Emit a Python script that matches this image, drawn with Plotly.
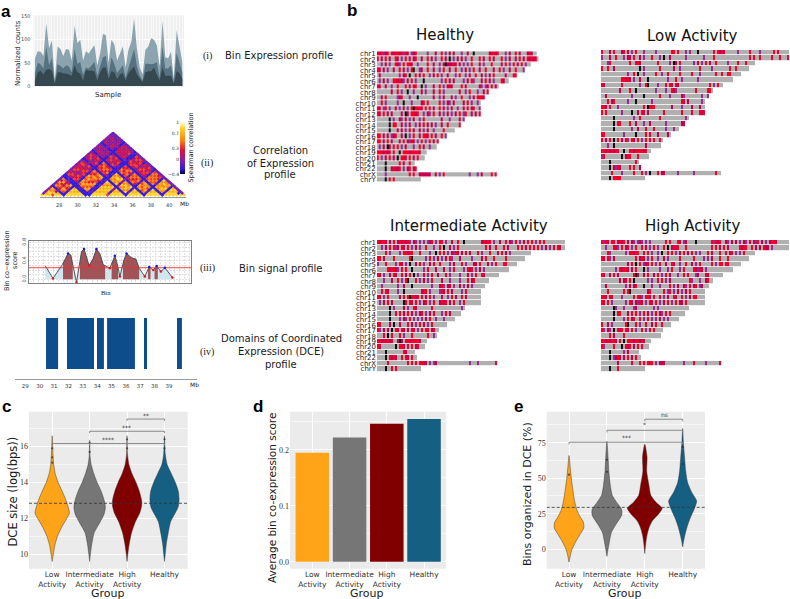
import numpy as np
import plotly.graph_objects as go

W, H = 790, 599
SANS = "DejaVu Sans"
SERIF = "Liberation Serif"

# ---------- panel a(i)
sample_outer = [60,75,74,65,135,82,98,10,85,80,65,80,78,55,130,92,100,55,75,70,80,88,45,70,112,110,50,100,90,55,70,85,40,78,95,145,80,40,25,78,85,103,100,88,42,140,62,60,74,15,120,85,52]
sample_mid = [28,50,47,38,85,45,60,8,47,44,38,45,42,30,80,48,52,24,40,38,45,52,22,40,62,65,25,62,48,28,38,45,18,38,55,80,42,22,12,48,48,47,48,52,18,85,38,38,45,8,72,50,30]
sample_dark = [12,30,33,25,35,37,33,5,30,30,27,27,25,22,45,30,27,12,35,33,33,32,12,30,40,40,15,32,30,15,25,28,12,28,35,42,25,15,8,30,32,32,40,25,12,40,22,22,22,5,32,28,15]

# ---------- panel a(ii): upper triangle of the bin correlation matrix, digit 0-9, row i starts at column i
corr_rows = [
"822323 1 22322 11 232232322 1 2323 1 2322 1 232322",
"87867 1 65746 11 543534453 1 4353 1 3243 1 432322",
"8876 1 56475 12 453454354 1 3534 1 4332 1 323422",
"583 2 45343 21 343234343 2 3243 2 3323 2 232322",
"87 1 67564 11 545345435 1 4345 1 3423 1 343232",
"8 1 56457 11 454354534 1 3534 1 3243 1 323422",
"1 11211 11 211121121 1 1211 1 1121 1 112111",
"88787 11 567567456 1 4546 1 4353 1 343432",
"8878 12 675675645 1 5465 1 3534 1 434342",
"887 11 567456756 1 4654 1 4345 1 343432",
"88 11 756745657 1 5464 1 5343 1 434342",
"8 11 675675467 1 4645 1 3454 1 343532",
"1 1 211211121 1 2111 1 1211 1 211121",
"1 121112112 1 1121 1 2111 1 121112",
"887878678 1 6768 1 5645 1 454352",
"88787867 1 7686 1 6454 1 543542",
"8878786 1 6786 1 4565 1 454352",
"887878 1 8678 1 5646 1 354542",
"52132 1 3132 2 3132 1 232312",
"8878 1 6867 1 4656 1 454342",
"887 1 7686 1 5465 1 345432",
"88 1 6876 1 6546 1 453452",
"8 1 8678 1 4565 1 345432",
"1 1211 1 1121 1 211211",
"8878 1 6756 1 565652",
"887 1 7567 1 656562",
"88 1 5676 1 565642",
"8 1 6756 1 656452",
"1 1211 1 121112",
"8878 1 767682",
"887 1 676862",
"88 1 786762",
"8 1 678672",
"1 121112",
"887872",
"88782",
"8872",
"812",
"82",
"8",
]
corr_min, corr_max = -0.4, 1.0
cb_levels = [-0.4,-0.3,-0.2,-0.1,0,0.1,0.2,0.3,0.4,0.5,0.6,0.7,0.8,0.9,1.0]
cb_ticks = [-0.4,0,0.3,0.7,1]
mb_ticks_ii = [28,30,32,34,36,38,40]
corr_scale = [[0,"#000030"],[0.1,"#2a18e0"],[0.24,"#7a1fb0"],[0.46,"#e0103a"],[0.68,"#ff8a10"],[0.88,"#ffcf28"],[1,"#ffffd8"]]

# ---------- panel a(iii)
sig_bin = [10.1,14.8,20.6,24.1,25.8,29.3,32.4,34,37.1,39.6,41.6,43.7,45.8,49.9,53,54.4,56.1,58.6,60.2,63.3,66,68,71.5,74.2,76.7,78.8,81.4,83.9,88.5]
sig_val = [.29,.02,.32,.56,.53,-.07,.6,.66,.3,.45,.66,.56,.32,.24,.51,.35,.06,.42,.56,.47,.44,.24,.06,.27,.2,.29,.17,.25,.04]
sig_threshold = 0.252
sig_domains = [(21,27),(31.5,47),(51,55),(58,68),(73.5,75),(77.5,79.5)]
peak_bin = [24.1,34,41.6,53,60.2,74.2,78.8,83.9]
peak_val = [.56,.66,.66,.51,.56,.27,.29,.25]
valley_bin = [14.8,29.3,37.1,49.9,56.1,71.5,76.7,81.4,88.5]
valley_val = [.02,-.07,.3,.24,.06,.06,.2,.17,.04]

# ---------- panel a(iv)
dce_start = [30.44,31.9,33.99,34.69,37.26,39.56]
dce_end = [31.28,33.78,34.47,36.63,37.47,39.9]
mb_ticks_iv = [29,30,31,32,33,34,35,36,37,38,39]

# ---------- panel b: chromosome stripes, one char per bin
chroms = ["chr%d"%i for i in range(1,23)]+["chrX","chrY"]
cell_len_healthy = [80,81,77,74,70,66,61,56,54,52,52,52,44,42,39,35,31,30,25,24,19,20,60,22]
cell_len_wide = [94,94,77,74,70,66,61,56,54,52,52,52,44,42,39,35,31,30,25,24,19,20,60,22]
healthy_rows = [
"rcrpcr.rcr rcrprc.pcr .....p...c ..r.p.c.c. ..p..c..k. ......crrc r...p.c..r .c...crc..",
"r.c.r.c..r c.p.r.c.cr ..c..r.c.p ..r.c.k.p. c.c.p..r.. .r.c..r.c. ..r.p.c..c .r.c.rcrcr.",
"..p.c.p..r cp.r.rrc.. p....r..c. .p.ckcccrc .c.p.p.r.. .c.p...r.. ..c.r.p.r. c.r.p..",
"rc.c.p..c. .r.c.p.rk. .pc..r..c. .p.r..c..r ..p.c.p.r. .c..r...c. .r.p..c..r ...p",
".c........ .p.cr.k..r .c.r..p.c. r.p..c...p .r..p.c..r ..c.p.c.r. ....c...rr",
".p.c.p..rr crcp.c.r.p ...k...... ..p.r.c.c. ...p.c.rp. ..c.r.c.p. ..rc..",
"rc..c..p.. r...r.c.rr ..k.p...c. .r.p.crc.. ..r.c..... .cp.pc.r.c",
".......c.. r.p..k..p. ..c.p...c. .r.p...... .c..p.r... p..c.r",
"..c.r..... pcr...p... k.......c. .p.c...c.p ..r...p.c. rrrcr",
"..r.p..... p..k...p.. ..cr.r.... .r.p.cp.c. ...c.r.p.. p",
"rc.pr.p..c .p.c.p.rkr rrc.r.r.c. .r.c.p.c.. p..c.r.cr. .p",
"rc.r.c.c.. ..c.kc.rrc r..p.cp.r. .c.p.c.p.c .r.pr..c.c .r",
"......k.p. .cp.c.p.c. .p.r...... ..c...p... .c.p",
"......k.rr ..c.p.c..p .c.r.c.c.p ..c..r.... .r",
"......k... c.c.p.r.c. .c.p.c..p. ...r....",
"rr.c.c.pcr ..c.k.p.r. .c.rrc.r.c ..r.p",
"rr.c.r.c.. .c.r.cprc. p.r.p.r.c.r",
".p.c.kc.r. r.p.c...p. .r.c..p...",
"rrrcrcr.r. .k.rrrcrrr rc...",
"r.p.c.r.c. k.rrc.r.c.r.",
"....k..... .r.c..r..",
"....k..crc cr.p.cr.cr",
"....p..... ......r.r. .cccccc..c .p.r...... ......p... p.c....r.r",
"....k.r.r. .......... ..",
]
low_rows = [
"r...c.r... cr.c.p.r.. .p.....p.. .....rr.r. ..p.p...k. ......r.rc rc......p. ....r....p ......r.r.",
"p...c..r.. .p.cc.r..c .p...r...p .k..c..... ..p....... .p....r... .......... ....r.r..r .....r...r ...r",
"...pr..... ....r..rrc ........r. ....p.kc.r ......p.c. p.r.c..r.. ...p....r. ..r....r",
"r..r..c... .........k .p.......r ......c..p .........r .....p.... ....r..r..",
".......... ...p..r.k. .p.....r.. p..r.....r .....r...p .......r.. r..rr",
".......... rrcrc.p..c ...k...... ...p...r.. p.......p. ..........",
"rc........ r........p ..rk....p. ..r.rc.rc. .......... ....r.p.r.",
".........c ....r..k.. .......p.. ..p..rcp.. .......r.. ...rr.",
"..c....... .....p.... .k.......r ....p..... cp........ p..pcrrr",
"...r.cr... ...p...k.. .....p.... .......... rc.c...... p.....",
"rrc.r...p. .......... .r.krrr... .....c.... p....c...c ..c..",
"r.r....... p....k..c. rc.c...... .r........ r....r...r cr..",
"......k... ......p..r .........r .......... ..p.",
"......k.rr ....r..c.. .p..c..... ..p....... cc",
"......k... .....p..c. ..r...r... ..p...p..p .",
"rr........ .p.....k.. ..r.r...c. ...c...r.",
"r.c.r.k.r. c.rp.rc.r. p.r.r.r..r",
"...p..k... .......... ..c.......",
"rrcrcrcrr. .k..rrcrrr rcr..",
"pr........ k.crr...r. .....r.r.",
"....k..... .......r.r",
"....k.cprc ....r.r..c.r",
".....r.... p.....r... r.p.k...r. cc......p. ......p... .......r.",
"....k.rrrr ............",
]
inter_rows = [
"rcrrc.c.r. crcrcrp.cp .p.p.pcr.p .rr.p..c.. r..k...... ..crcrr.p. .c..r.cp.r .p.c.r.r.p .r.r",
"..p.c.r.rp c.rc.r.p.c .p..r...p. .r.k..c.p. r......... ....r.c..r ...r.c.... r.r.c.r.r. r.p.c.p.r.rc",
"....r.p... .p.rrcrr.. .r....p..k .r.r.p.cprc .c.r.c...r .p...r...c .r.c.p",
"rr.c....r. ......rk.. ....p.r.p. c.p.c.rp.. .c.....p.. ..c.r...r. ....r",
"p...r....p .rc.p.k..c .r.p..c.r. .r....p.c. ..r.p...cc .r...c.p.r ...rr",
".....rcrrc p.r.r..k.. ...p.r...c ...c..p.r. ...p.rcr.p .c.p...",
"rc.p..c.rc ..r.c.r.k. p..r.p.r.. c...r.p... .p...c.p.r ..rc",
"...p...c.. r.p.rk...r .p.c.p.r.. ..c...p... .p...r.cr",
"..p....... p..c...k.. .......p.. .crp.cc.p. .c.p.c.p..",
"..r.rc.... p..k...... ..crr.p... .prc.r.c.. ..p.r..",
"rc.p.r.... .c.r.rkrrc r.r.c.r.p. ..c..p.r.c ..r.c",
".p.c.r.c.. ...kr.rc.r .p.cr.p.r. .crcr.c.r. .p.r",
"......k.p. ...c.p..rc .......r.. .......... ..p.",
"......k..r .r.c.r.c.p .cr.p.c.r. ..p.r.c",
"......k... .p.cp.r.p. p.p.c.r..p ...p",
"rr....c.k. .c...r.c.p .r.c.p.r..",
"rp.c.c.k.r c.rc.c.rc. p.r.rr.cr",
"...r.k.r.. .r.p...r.. .....r..p",
"rrcrcrcr.. ckc.rrcrrr rc",
"rc.......k .rrc.r.r.c r",
"....k..... ...rc.",
"....k.rcrc ..r.rc.r",
".....r.... .....r.r.r .rrcc.p.pc .......... ......p... p........r",
"....k..r.r ..........",
]
high_rows = [
"rprc.rr.cr cr.c.cp.pc p.p.p..... ..r.r...rc .pc....k.. .....rprcr ..cp.c.c.p .cp.r.cpr. c.p.crrc..",
"..p...rcp. r.cr.p.r.. r.c.p.r.p. .r.k.crcr. ..r....... .....r.r.c .r.c.....r crr..r.c.c .rcc.p",
"...rp..... ..p.rrcrr. .r.r.p..p. k..r.r.p.c .r.c.r.p.p ...r.c...r ..r.cr.p.p.r",
"rc.rp.c... .......r.c rc.p.r..p. .c.p.....r ......r... .p.p.c...r ...r...",
".......... ...c.r.k.r .pcr.r.p.r ..c..rc..p ..r..c.p.r .....r.p.r r.rr",
".......p.r crrc.c.r.. .k.p.....p ...p.r...p .r....rcpr c.p..",
"rc..c.r.c. ......rkc. .c.r..c.r. p.r.c...p. .r.r...pc. ..rc",
".........c .cr.r.k... ...p.p..r. r.p.c..... ....rp...p ..cr",
"..c....... ..p.c.cr.. .k...p...p ....r.p.c. .cp.r.cr.p c..",
"...r...... .r.rk..... ...cr..... .r.pr.p.c. p.c.r..",
"rrc.rc.... p.....r.rc p.rrc.r..r .p.c..rc.. r.p.c.rr",
"rc.r.p.... ..p.rc.cpr c.p.rc.r.p .c.r.p.r.c c.r",
"......kp.. .p....pc.. ......p.p. ....",
"......k.rr ...c.r.r.p .r.c.p.r.c p.r.r",
"......k... .p.r.cr..r .p.r.p.p.c .p.p",
"r..c.p.... ..rk...r.p ..r..c.r..r",
"rp.cp.k.rc r.rc.r.p.. r.p.r.r",
"....r.c... .r........",
"rrcrcrrc.r .k.rrrcrrc rc",
"rp....r... k.rcr.c.r.r",
"....k..... .p.c..",
"....k.pcrc .c.r.c.r",
"........c. .....r...r .r.rrr.p.c cc........ .p....r... ..p......r",
"....k...r. ..........",
]
stripe_code = {".":0,"p":1,"c":2,"r":3,"k":4}
stripe_scale = [[0,"#b0b0b0"],[0.2,"#b0b0b0"],[0.2,"#9a2a90"],[0.4,"#9a2a90"],[0.4,"#c4004e"],[0.6,"#c4004e"],[0.6,"#f5002a"],[0.8,"#f5002a"],[0.8,"#111111"],[1,"#111111"]]

# ---------- panels c, d, e
groups = ["Low<br>Activity","Intermediate<br>Activity","High<br>Activity","Healthy"]
group_pos = [1,2,3,4]
group_colors = ["#FFA319","#767676","#800000","#155F83"]

c_y = [[16.6,15.6,15,14.5,14,13.5,13,12.6,12.3,12,11.5,11,10.5,10,9.6],
       [16.35,15.5,15,14.5,14,13.5,13,12.6,12.2,11.8,11.2,10.6,10,9.6],
       [16.6,15.6,15,14.5,14,13.5,13,12.7,12.3,11.8,11.2,10.6,10,9.6],
       [16.6,15.6,15,14.5,14,13.5,13,12.6,12.2,11.8,11.2,10.6,10,9.6]]
c_hw = [[0,.02,.04,.08,.16,.27,.37,.43,.46,.39,.25,.14,.07,.03,0],
        [0,.01,.04,.11,.2,.31,.39,.42,.38,.28,.12,.06,.02,0],
        [0,.01,.05,.13,.24,.33,.39,.39,.34,.22,.12,.06,.02,0],
        [0,.02,.07,.18,.29,.37,.39,.36,.26,.16,.1,.05,.02,0]]
c_q1 = [11.96,12.19,12.15,12.35]
c_med = [12.5,12.28,12.84,13.0]
c_q3 = [13.15,13.45,13.55,13.68]
c_lo = [10.1,10.3,10.1,10.3]
c_hi = [15,15,15.1,15.1]
c_out_x = [1,1,1,2,2,3,3,4,4]
c_out_y = [15.9,15.4,15.1,15.7,16.2,15.9,16.4,15.9,16.4]
c_ref = 12.84
c_brackets = [(1,4,16.17,"****",2.5,16.42),(2,4,16.85,"***",2.98,17.08),(3,4,17.53,"**",3.5,17.72)]
c_ticks = [10,12,14,16]

d_vals = [0.1946,0.222,0.2464,0.2548]
d_ticks = [0.0,0.1,0.2]

e_y = [[66,58,50,42,35,28,23,19,15,10,5,0,-5,-9],
       [76,65,55,45,38,33,28,24,18,12,6,0,-5],
       [74,65,55,45,38,33,29,25,20,15,10,5,0,-3],
       [85,75,65,55,47,40,34,28,22,16,10,5,1.6]]
e_hw = [[0,.03,.06,.1,.14,.2,.29,.38,.39,.28,.17,.08,.03,0],
        [0,.03,.05,.09,.14,.26,.39,.39,.25,.12,.07,.03,0],
        [0,.06,.05,.11,.16,.3,.46,.37,.2,.11,.06,.03,.01,0],
        [0,.02,.05,.08,.13,.24,.37,.3,.2,.12,.06,.02,0]]
e_q1 = [14,20.4,24.6,27.7]
e_med = [20.6,28.4,30,35]
e_q3 = [27,32.4,36.6,40]
e_lo = [4.6,8,14,10]
e_hi = [40,50,50,52]
e_out_x = [1,2,2,3,4,4]
e_out_y = [52.5,54.5,63,61,60,72]
e_ref = 29.5
e_brackets = [(1,4,75.3,"***",2.53,79),(2,4,83.7,"*",3.0,87.5),(3,4,91.5,"ns",3.53,94.5)]
e_ticks = [0,25,50,75]

# ---------- helpers
fig = go.Figure()
layout = {}
axis_count = 0

def px_x(x): return x / W
def px_y(y): return 1 - y / H

def new_axes(x0, x1, y0, y1, xopts, yopts):
    global axis_count
    axis_count += 1
    n = "" if axis_count == 1 else str(axis_count)
    base = dict(showgrid=False, zeroline=False, showticklabels=False, ticks="", showline=False, fixedrange=True)
    xa = dict(base); xa.update(domain=[px_x(x0), px_x(x1)], anchor="y"+n); xa.update(xopts)
    ya = dict(base); ya.update(domain=[px_y(y1), px_y(y0)], anchor="x"+n); ya.update(yopts)
    layout["xaxis"+n] = xa
    layout["yaxis"+n] = ya
    return dict(xaxis="x"+n, yaxis="y"+n), ("x"+n, "y"+n)

annots = []
def text(x, y, s, size=10, family=SANS, color="#1a1a1a", angle=0, bold=False, anchor="center"):
    if bold: s = "<b>%s</b>" % s
    annots.append(dict(x=px_x(x), y=px_y(y), xref="paper", yref="paper", text=s, showarrow=False, textangle=angle,
                       font=dict(size=size, family=family, color=color), xanchor=anchor, yanchor="middle", align="center"))
shapes = []
def panel_bg(x0, x1, y0, y1, color="#ebebeb", line=None, lw=0):
    shapes.append(dict(type="rect", xref="paper", yref="paper", x0=px_x(x0), x1=px_x(x1), y0=px_y(y1), y1=px_y(y0),
                       fillcolor=color, line=dict(width=lw, color=line or color), layer="below"))

# ---------- a(i)
panel_bg(33.5, 184, 15.5, 87, "#efefef")
ax, _ = new_axes(33.5, 184, 15.5, 87,
    dict(range=[-0.5,52.6], showgrid=True, gridcolor="#f8f8f8", gridwidth=0.5, tickmode="array", tickvals=list(range(53))),
    dict(range=[-2,152], showgrid=True, gridcolor="#ffffff", gridwidth=0.8, showticklabels=True, tickvals=[0,50,100,150],
         tickfont=dict(size=5, family=SANS, color="#444"), ticklen=1, ticks="outside", tickcolor="rgba(0,0,0,0)"))
sx = list(range(len(sample_outer)))
for v, col in [(sample_outer,"#8ca4b0"),(sample_mid,"#567280"),(sample_dark,"#35484f")]:
    fig.add_trace(go.Scatter(x=sx, y=v, mode="lines", line=dict(width=0, color=col), fill="tozeroy", fillcolor=col, hoverinfo="skip", **ax))
text(18, 53, "Normalized counts", 7, angle=-90)
text(108, 95, "Sample", 7)
text(207, 56, "(i)", 10, SERIF)
text(279, 56, "Bin Expression profile", 10)

# ---------- a(ii)
n_bins = len(corr_rows)
mb0, mb1 = 25.9, 41.82
bin_size = (mb1-mb0)/n_bins
ax, _ = new_axes(40, 186, 132, 197,
    dict(range=[mb0,mb1], showticklabels=True, tickvals=mb_ticks_ii, tickfont=dict(size=5, family=SANS, color="#333"),
         showline=True, linecolor="#9a9a9a", linewidth=0.8, ticks="outside", ticklen=3, tickcolor="rgba(0,0,0,0)"),
    dict(range=[-1,n_bins]))
cx, cy, cz = [], [], []
for i, row in enumerate(corr_rows):
    row = row.replace(" ", "")
    row = row.ljust(n_bins-i, "3")[:n_bins-i]
    for k, ch in enumerate(row):
        j = i + k
        cx.append(mb0 + bin_size*((i+j)/2+0.5)); cy.append(k+0.3)
        cz.append(corr_min + int(ch)/9*(corr_max-corr_min))
fig.add_trace(go.Scatter(x=cx, y=cy, mode="markers", hoverinfo="skip",
    marker=dict(symbol="diamond", size=3.0, color=cz, cmin=corr_min, cmax=corr_max, colorscale=corr_scale, line=dict(width=0)), **ax))
ax, _ = new_axes(180, 185, 122, 174, dict(range=[-0.5,0.5]),
    dict(range=[corr_min,corr_max], showticklabels=True, tickvals=cb_ticks, ticktext=["\u22120.4","0","0.3","0.7","1"],
         tickfont=dict(size=4.5, family=SANS, color="#333"), ticks="", ticklen=0))
fig.add_trace(go.Heatmap(x=[0], y=cb_levels, z=[[v] for v in cb_levels], zmin=corr_min, zmax=corr_max, colorscale=corr_scale,
                         showscale=False, hoverinfo="skip", zsmooth="best", **ax))
text(190.5, 148, "Spearman correlation", 6.5, angle=-90)
text(184, 204, "Mb", 6)
text(207, 163, "(ii)", 10, SERIF)
text(280, 150, "Correlation", 10); text(280, 163, "of Expression", 10); text(280, 175, "profile", 10)

# ---------- a(iii)
ax, _ = new_axes(29, 191, 240.7, 283.3,
    dict(range=[0,100], showgrid=True, gridcolor="#e0e0e0", griddash="2px,1px", gridwidth=0.5, dtick=3,
         showline=True, mirror=True, linecolor="#808080", linewidth=1.2),
    dict(range=[-0.087,0.84], showgrid=True, gridcolor="#e0e0e0", griddash="2px,1px", gridwidth=0.5, dtick=0.1,
         showticklabels=True, tickvals=[0,0.1,0.2,0.3,0.4,0.5,0.6,0.7,0.8], ticktext=["0.0","","","","0.4","","","","0.8"], tickangle=-90,
         tickfont=dict(size=5, family=SANS, color="#444"), showline=True, mirror=True, linecolor="#808080", linewidth=1.2))
fig.add_trace(go.Scatter(x=sig_bin, y=sig_val, mode="lines", line=dict(width=0), fill="tozeroy", fillcolor="#cfe6ef", hoverinfo="skip", **ax))
for a, b in sig_domains:
    xs = [a] + [x for x in sig_bin if a < x < b] + [b]
    ys = list(np.interp(xs, sig_bin, sig_val))
    fig.add_trace(go.Scatter(x=[a]+xs+[b], y=[0]+ys+[0], mode="lines", line=dict(width=0), fill="toself",
                             fillcolor="rgba(150,50,55,0.82)", hoverinfo="skip", **ax))
fig.add_trace(go.Scatter(x=sig_bin, y=sig_val, mode="lines", line=dict(width=0.9, color="#3d4a4d"), hoverinfo="skip", **ax))
fig.add_trace(go.Scatter(x=[0,100], y=[sig_threshold]*2, mode="lines", line=dict(width=0.9, color="#ee3030"), hoverinfo="skip", **ax))
fig.add_trace(go.Scatter(x=peak_bin, y=peak_val, mode="markers", marker=dict(size=2.5, color="#1515e0"), hoverinfo="skip", **ax))
fig.add_trace(go.Scatter(x=valley_bin, y=valley_val, mode="markers", marker=dict(size=2.5, color="#e81515"), hoverinfo="skip", **ax))
text(7, 261, "Bin co\u2212expression", 6.5, angle=-90)
text(15, 261, "score", 6.5, angle=-90)
text(106, 292, "Bin", 6.5, SERIF)
text(207, 268, "(iii)", 10, SERIF)
text(281, 268, "Bin signal profile", 10)

# ---------- a(iv)
ax, _ = new_axes(15, 197, 318, 379,
    dict(range=[28.28,40.95], showticklabels=True, tickvals=mb_ticks_iv, tickfont=dict(size=5.5, family=SANS, color="#333"),
         showline=True, linecolor="#9a9a9a", linewidth=0.8, ticks="outside", ticklen=1, tickcolor="rgba(0,0,0,0)"),
    dict(range=[-0.196,1]))
fig.add_trace(go.Bar(x=[(a+b)/2 for a,b in zip(dce_start,dce_end)], width=[b-a for a,b in zip(dce_start,dce_end)],
                     y=[1]*len(dce_start), marker=dict(color="#0e4d8c", line=dict(width=0)), hoverinfo="skip", **ax))
text(194, 384, "Mb", 6)
text(207, 352, "(iv)", 10, SERIF)
text(281, 338, "Domains of Coordinated", 10); text(281, 351, "Expression (DCE)", 10); text(281, 364, "profile", 10)

# ---------- b
def chrom_panel(rows, lens, x0, y_first, y_last, labels):
    pitch = (y_last-y_first)/23
    nmax = max(lens)
    yopts = dict(range=[23.5,-0.5])
    if labels:
        yopts.update(showticklabels=True, tickmode="array", tickvals=list(range(24)), ticktext=chroms,
                     tickfont=dict(size=7, family=SANS, color="#222"), ticks="", ticklen=0)
    ax, _ = new_axes(x0, x0+2*nmax, y_first-pitch/2, y_last+pitch/2, dict(range=[-0.5,nmax-0.5]), yopts)
    z = []
    for r, n in zip(rows, lens):
        s = r.replace(" ", "").ljust(n, ".")[:n]
        z.append([stripe_code[c] for c in s] + [None]*(nmax-n))
    fig.add_trace(go.Heatmap(x=list(range(nmax)), y=list(range(24)), z=z, zmin=-0.5, zmax=4.5, colorscale=stripe_scale,
                             showscale=False, ygap=0.8, hoverinfo="skip", **ax))

chrom_panel(healthy_rows, cell_len_healthy, 376.7, 54, 180, True)
chrom_panel(low_rows, cell_len_wide, 601, 52.7, 178.7, False)
chrom_panel(inter_rows, cell_len_wide, 377, 242.7, 369, True)
chrom_panel(high_rows, cell_len_wide, 601, 242.7, 369, False)
text(445, 35, "Healthy", 15, color="#111")
text(692.7, 36, "Low Activity", 15, color="#111")
text(469, 225.7, "Intermediate Activity", 15, color="#111")
text(692.7, 225.7, "High Activity", 15, color="#111")

# ---------- c, e violins
def gg_axes(x0, x1, xr, yr, ticks, ticktext=None, minor=None):
    panel_bg(x0, x1, 411.7, 568.7)
    xo = dict(range=xr, showgrid=True, gridcolor="#ffffff", gridwidth=1, showticklabels=True, tickmode="array", tickangle=0,
              tickvals=group_pos, ticktext=groups, tickfont=dict(size=7.5, family=SANS, color="#333"), ticks="", ticklen=0)
    yo = dict(range=yr, showgrid=True, gridcolor="#ffffff", gridwidth=1, showticklabels=True, tickmode="array",
              tickvals=ticks, ticktext=ticktext or [str(t) for t in ticks], tickfont=dict(size=8, family=SERIF, color="#333"),
              ticks="", ticklen=0)
    if minor: yo["minor"] = dict(showgrid=True, gridcolor="#f6f6f6", gridwidth=0.5, tickvals=minor)
    return new_axes(x0, x1, 411.7, 568.7, xo, yo)[0]

def violins(ax, ys, hws, q1, med, q3, lo, hi, ox, oy, ref, brackets, xr, tip):
    for i in range(4):
        c = group_pos[i]
        xs = [c+h for h in hws[i]] + [c-h for h in hws[i][::-1]]
        yy = list(ys[i]) + list(ys[i][::-1])
        fig.add_trace(go.Scatter(x=xs, y=yy, mode="lines", fill="toself", fillcolor=group_colors[i],
                                 line=dict(width=0.7, color="rgba(50,50,50,0.65)", shape="spline", smoothing=0.6), hoverinfo="skip", **ax))
        fig.add_trace(go.Box(x=[c], q1=[q1[i]], median=[med[i]], q3=[q3[i]], lowerfence=[lo[i]], upperfence=[hi[i]], width=0.1,
                             fillcolor="rgba(0,0,0,0)", line=dict(color="rgba(30,30,30,0.8)", width=0.7), whiskerwidth=0,
                             boxpoints=False, hoverinfo="skip", **ax))
    fig.add_trace(go.Scatter(x=ox, y=oy, mode="markers", marker=dict(size=2.2, color="rgba(40,40,40,0.7)"), hoverinfo="skip", **ax))
    fig.add_trace(go.Scatter(x=xr, y=[ref,ref], mode="lines", line=dict(width=0.8, color="#333", dash="3px,2px"), hoverinfo="skip", **ax))
    for a, b, y, lab, tx, ty in brackets:
        fig.add_trace(go.Scatter(x=[a,a,b,b], y=[y-tip,y,y,y-tip], mode="lines", line=dict(width=0.9, color="#808080"), hoverinfo="skip", **ax))
        annots.append(dict(x=tx, y=ty, xref=ax["xaxis"], yref=ax["yaxis"], text=lab, showarrow=False,
                           font=dict(size=6, family=SANS, color="#333")))

cr = [0.38,4.62]
ax = gg_axes(29, 187.7, cr, [9.2,17.94], c_ticks, minor=[11,13,15,17])
violins(ax, c_y, c_hw, c_q1, c_med, c_q3, c_lo, c_hi, c_out_x, c_out_y, c_ref, c_brackets, cr, 0.1)
text(12.5, 492, "DCE size (log(bps))", 11.5, angle=-90)
text(108, 593.5, "Group", 11)

# ---------- d
ax = gg_axes(290, 446, [0.4,4.59], [-0.0125,0.268], d_ticks, ["0.0","0.1","0.2"], minor=[0.05,0.15,0.25])
fig.add_trace(go.Bar(x=group_pos, y=d_vals, width=0.9, marker=dict(color=group_colors, line=dict(width=0)), hoverinfo="skip", **ax))
text(272, 498, "Average bin co-expression score", 10.5, angle=-90)
text(367, 593.5, "Group", 11)

er = [0.41,4.59]
ax = gg_axes(546.7, 705, er, [-13.65,96.8], e_ticks, minor=[12.5,37.5,62.5,87.5])
violins(ax, e_y, e_hw, e_q1, e_med, e_q3, e_lo, e_hi, e_out_x, e_out_y, e_ref, e_brackets, er, 1.5)
text(527, 494, "Bins organized in DCE (%)", 11, angle=-90)
text(625, 593.5, "Group", 11)

# ---------- panel letters
for lx, ly, s in [(6,11,"a"),(352,10,"b"),(6,406,"c"),(258,406,"d"),(518,406,"e")]:
    text(lx, ly, s, 17, "Liberation Sans", "#000", bold=True)

layout.update(width=W, height=H, margin=dict(l=0,r=0,t=0,b=0,autoexpand=False), autosize=False, showlegend=False, paper_bgcolor="#ffffff",
              plot_bgcolor="rgba(0,0,0,0)", annotations=annots, shapes=shapes, boxmode="overlay", barmode="overlay",
              hovermode=False, font=dict(family=SANS))
fig.update_layout(**layout)
fig.write_html("out.html", post_script="document.body.style.margin='0';document.body.style.overflow='hidden';", config=dict(displayModeBar=False, responsive=False))
